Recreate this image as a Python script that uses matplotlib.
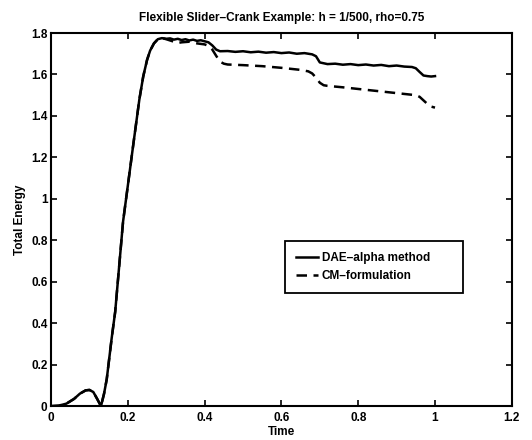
import matplotlib
matplotlib.use("Agg")
import matplotlib.pyplot as plt

plt.rcParams["font.family"] = ["Liberation Sans", "DejaVu Sans"]

# time / energy samples
t_rise = [0.0, 0.02, 0.04, 0.06, 0.075, 0.09, 0.1, 0.11, 0.12, 0.13,
          0.138, 0.145, 0.158, 0.167, 0.1875, 0.214, 0.23, 0.24, 0.25,
          0.258, 0.268, 0.278, 0.288]
e_rise = [0.0, 0.002, 0.012, 0.035, 0.06, 0.076, 0.078, 0.068, 0.035, 0.0,
          0.06, 0.13, 0.33, 0.455, 0.89, 1.26, 1.48, 1.59, 1.67,
          1.715, 1.75, 1.77, 1.775]

t_dae = [0.29, 0.30, 0.31, 0.32, 0.33, 0.34, 0.35, 0.36, 0.37, 0.38, 0.39,
         0.40, 0.41, 0.42, 0.43, 0.44, 0.46, 0.48, 0.50, 0.52, 0.54, 0.56,
         0.58, 0.60, 0.62, 0.64, 0.66, 0.68, 0.69, 0.70, 0.72, 0.74, 0.76,
         0.78, 0.80, 0.82, 0.84, 0.86, 0.88, 0.90, 0.92, 0.94, 0.95, 0.96,
         0.97, 0.98, 0.99, 1.0]
e_dae = [1.775, 1.772, 1.774, 1.768, 1.772, 1.766, 1.770, 1.764, 1.768,
         1.762, 1.765, 1.760, 1.755, 1.740, 1.720, 1.712, 1.713, 1.709,
         1.712, 1.707, 1.710, 1.705, 1.708, 1.703, 1.706, 1.700, 1.703,
         1.697, 1.688, 1.658, 1.650, 1.652, 1.647, 1.650, 1.645, 1.648,
         1.643, 1.646, 1.640, 1.643, 1.638, 1.636, 1.630, 1.612, 1.595,
         1.592, 1.590, 1.592]

t_cm = [0.29, 0.30, 0.32, 0.33, 0.34, 0.36, 0.38, 0.40, 0.41, 0.42, 0.43,
        0.44, 0.45, 0.46, 0.50, 0.55, 0.60, 0.65, 0.67, 0.68, 0.69, 0.70,
        0.71, 0.72, 0.76, 0.80, 0.85, 0.90, 0.95, 0.96, 0.97, 0.98, 0.99,
        1.0]
e_cm = [1.775, 1.770, 1.758, 1.752, 1.755, 1.758, 1.750, 1.745, 1.738,
        1.720, 1.690, 1.662, 1.652, 1.648, 1.645, 1.640, 1.632, 1.622,
        1.615, 1.605, 1.585, 1.560, 1.548, 1.545, 1.538, 1.530, 1.520,
        1.510, 1.500, 1.492, 1.475, 1.458, 1.445, 1.440]

x_ticks = [0, 0.2, 0.4, 0.6, 0.8, 1.0, 1.2]
x_labels = ["0", "0.2", "0.4", "0.6", "0.8", "1", "1.2"]
y_ticks = [0, 0.2, 0.4, 0.6, 0.8, 1.0, 1.2, 1.4, 1.6, 1.8]
y_labels = ["0", "0.2", "0.4", "0.6", "0.8", "1", "1.2", "1.4", "1.6", "1.8"]

fs = 8.5

fig = plt.figure(figsize=(5.32, 4.4), dpi=100)
ax = fig.add_axes([0.096, 0.077, 0.866, 0.848])

ax.plot(t_rise + t_dae, e_rise + e_dae, color="black", lw=1.8,
        label="DAE\u2013alpha method")
ax.plot(t_rise + t_cm, e_rise + e_cm, color="black", lw=1.8,
        linestyle=(0, (4.2, 2.6)), label="CM\u2013formulation")

ax.set_xlim(0, 1.2)
ax.set_ylim(0, 1.8)
ax.set_xticks(x_ticks)
ax.set_xticklabels(x_labels)
ax.set_yticks(y_ticks)
ax.set_yticklabels(y_labels)
ax.tick_params(direction="in", top=True, right=True, length=4, width=1.2,
               labelsize=fs)
ax.tick_params(axis="x", pad=4)
ax.tick_params(axis="y", pad=2.5)
for lab in ax.get_xticklabels() + ax.get_yticklabels():
    lab.set_fontweight("bold")
for sp in ax.spines.values():
    sp.set_linewidth(1.5)

ax.set_title("Flexible Slider\u2013Crank Example: h = 1/500, rho=0.75",
             fontsize=fs, fontweight="bold", pad=9)
ax.set_xlabel("Time", fontsize=fs, fontweight="bold", labelpad=2)
ax.set_ylabel("Total Energy", fontsize=fs, fontweight="bold", labelpad=4)

leg = ax.legend(loc="lower left", bbox_to_anchor=(0.508, 0.303, 0.386, 0.137),
                mode="expand", borderaxespad=0, fontsize=fs,
                handlelength=1.9, handletextpad=0.3, fancybox=False,
                framealpha=1, edgecolor="black", borderpad=0.9,
                labelspacing=0.55)
leg.get_frame().set_linewidth(1.3)
for txt in leg.get_texts():
    txt.set_fontweight("bold")

plt.savefig("out.png", dpi=100)
